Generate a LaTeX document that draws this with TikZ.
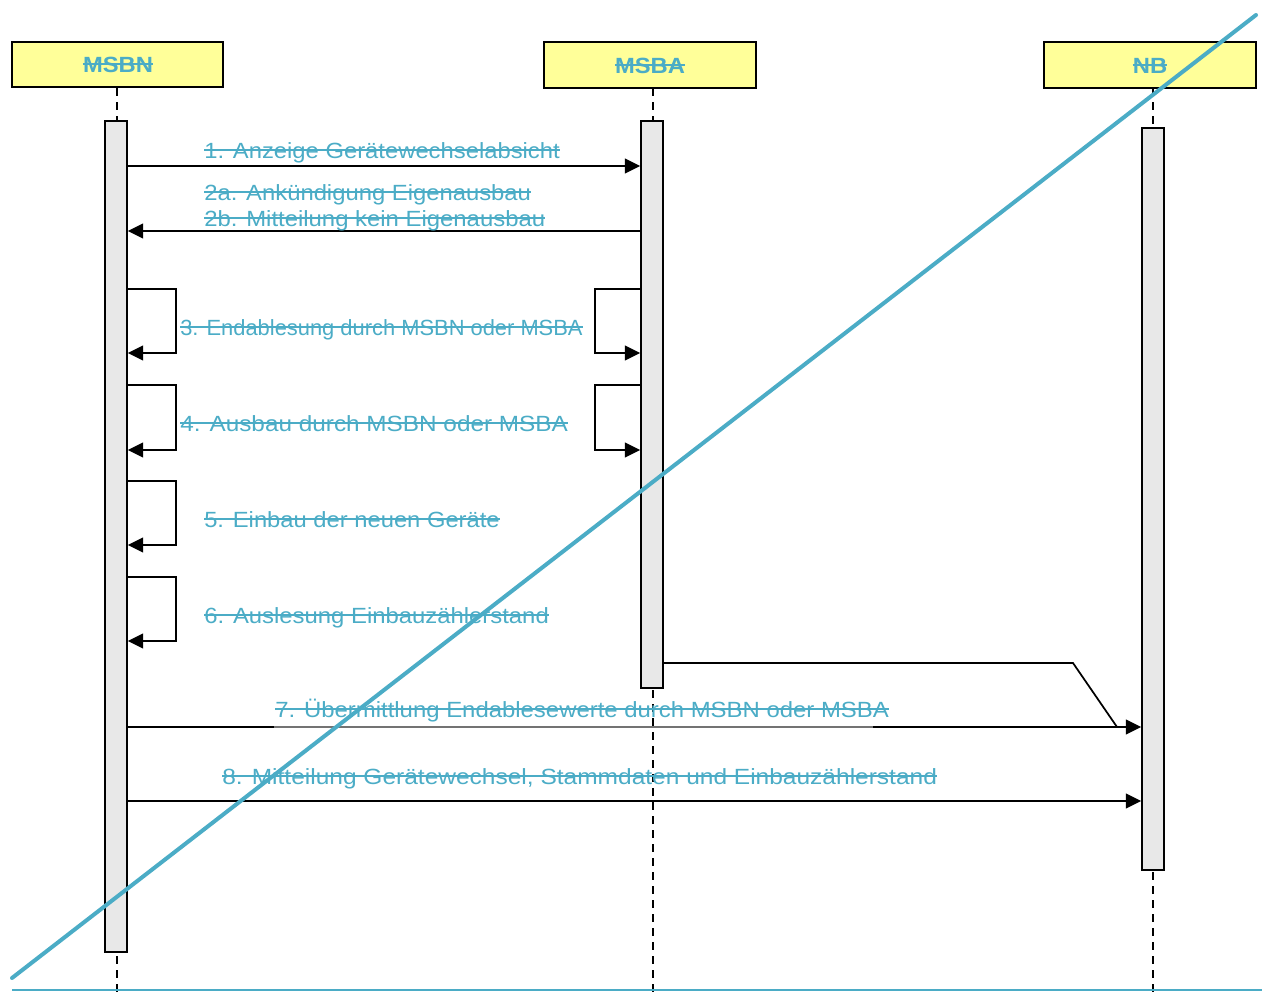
\documentclass[tikz,border=0pt]{standalone}
\usepackage{fontspec}
\usepackage{graphicx}
\setmainfont{Liberation Sans}
\usetikzlibrary{arrows.meta,fit}
\definecolor{teal}{HTML}{4BACC6}
\definecolor{hdr}{HTML}{FFFF99}
\definecolor{actf}{HTML}{E8E8E8}
\tikzset{
  hbox/.style={draw=black,line width=1.1pt,fill=hdr,inner sep=0pt},
  actbox/.style={draw=black,line width=1.1pt,fill=actf,inner sep=0pt},
  life/.style={line width=1.5pt,dash pattern=on 6pt off 4.5pt},
  msg/.style={line width=1.3pt,-{Triangle[length=11.5pt,width=11pt]}},
  plain/.style={line width=1.3pt},
  lbl/.style={text=teal,inner sep=0pt,font=\fontsize{16.5}{20}\selectfont},
  hlbl/.style={text=teal,inner sep=0pt,font=\fontsize{16.5}{20}\selectfont\bfseries},
  strike/.style={draw=teal,line width=1.4pt},
  cross/.style={draw=teal,line width=3pt},
}
\newcommand\lbl[4][1.085]{\node[lbl,anchor=base west] (#2) at #3 {\scalebox{#1}[1]{#4}};
  \draw[strike] ([yshift=6pt]#2.base west) -- ([yshift=6pt]#2.base east);}
\newcommand\hlbl[3]{\node[hlbl,anchor=base] (#1) at #2 {\scalebox{1.08}[1]{#3}};
  \draw[strike] ([yshift=6pt]#1.base west) -- ([yshift=6pt]#1.base east);}
\begin{document}
\begin{tikzpicture}[x=0.75pt,y=-0.75pt]
\useasboundingbox (0,0) rectangle (1266,992);
% headers
\node[hbox,fit={(12,42) (223,87)}] (hN) {};
\node[hbox,fit={(544,42) (756,88)}] (hA) {};
\node[hbox,fit={(1044,42) (1256,88)}] (hB) {};
% lifelines
\coordinate (eN) at (117,992);
\coordinate (eA) at (653,992);
\coordinate (eB) at (1153,992);
\draw[life] (117,88) -- (eN);
\draw[life] (653,88) -- (eA);
\draw[life] (1153,88) -- (eB);
% activation bars
\node[actbox,fit={(105,121) (127,952)}] (aN) {};
\node[actbox,fit={(641,121) (663,688)}] (aA) {};
\node[actbox,fit={(1142,128) (1164,870)}] (aB) {};
% header labels
\hlbl{tN}{(118,72)}{MSBN}
\hlbl{tA}{(650,73)}{MSBA}
\hlbl{tB}{(1150,73)}{NB}
% messages
\draw[msg] (aN.east |- 0,166) -- (aA.west |- 0,166);
\draw[msg] (aA.west |- 0,231) -- (aN.east |- 0,231);
\draw[msg] (aN.east |- 0,289) -- ++(48,0) |- (aN.east |- 0,353);
\draw[msg] (aA.west |- 0,289) -- ++(-45,0) |- (aA.west |- 0,353);
\draw[msg] (aN.east |- 0,385) -- ++(48,0) |- (aN.east |- 0,450);
\draw[msg] (aA.west |- 0,385) -- ++(-45,0) |- (aA.west |- 0,450);
\draw[msg] (aN.east |- 0,481) -- ++(48,0) |- (aN.east |- 0,545);
\draw[msg] (aN.east |- 0,577) -- ++(48,0) |- (aN.east |- 0,641);
\coordinate (k7) at (1073,663);
\coordinate (j7) at (1117,727);
\draw[plain] (aA.east |- 0,663) -- (k7) -- (j7);
\draw[msg] (aN.east |- 0,727) -- (aB.west |- 0,727);
\draw[line width=1.6pt,draw=black!55] (274,727.3) -- (873,727.3);
\draw[msg] (aN.east |- 0,801) -- (aB.west |- 0,801);
% labels
\lbl[1.082]{l1}{(204,158)}{1. Anzeige Gerätewechselabsicht}
\lbl[1.083]{l2a}{(204,200)}{2a. Ankündigung Eigenausbau}
\lbl[1.086]{l2b}{(204,226)}{2b. Mitteilung kein Eigenausbau}
\lbl[0.995]{l3}{(180,335)}{3. Endablesung durch MSBN oder MSBA}
\lbl[1.106]{l4}{(180,431)}{4. Ausbau durch MSBN oder MSBA}
\lbl[1.08]{l5}{(204,527)}{5. Einbau der neuen Geräte}
\lbl[1.085]{l6}{(204,623)}{6. Auslesung Einbauzählerstand}
\lbl[1.087]{l7}{(275,717)}{7. Übermittlung Endablesewerte durch MSBN oder MSBA}
\lbl[1.114]{l8}{(222,784)}{8. Mitteilung Gerätewechsel, Stammdaten und Einbauzählerstand}
% cross-out
\coordinate (c1) at (12,978);
\coordinate (c2) at (1256,15);
\draw[cross,line cap=round] (c1) -- (c2);
\coordinate (b1) at (12,990);
\coordinate (b2) at (1262,990);
\draw[draw=teal,line width=1.6pt] (b1) -- (b2);
\end{tikzpicture}
\end{document}
